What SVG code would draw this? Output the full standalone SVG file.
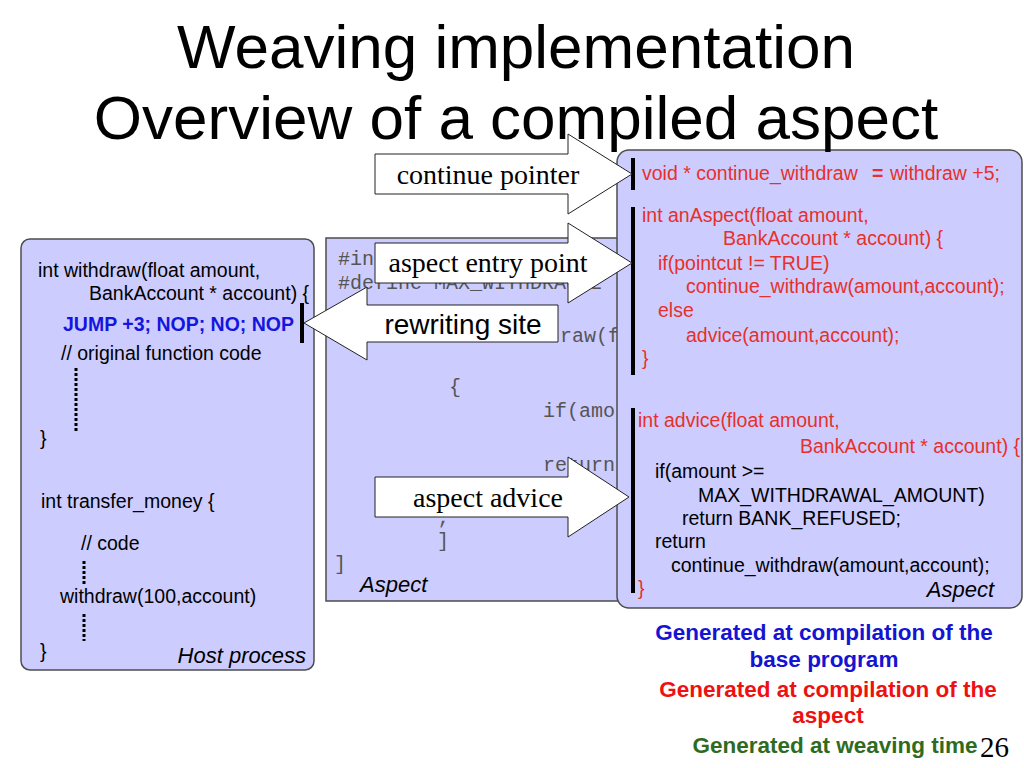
<svg xmlns="http://www.w3.org/2000/svg" width="1024" height="768" viewBox="0 0 1024 768">
<style>
.box{fill:#ccccff;stroke:#4d4d4d;stroke-width:1.5}
.code{font-family:"Liberation Sans",Arial,sans-serif;font-size:19.5px;fill:#000}
.red{fill:#e8302a}
.blue{fill:#1515e0;font-weight:bold}
.mono{font-family:"Liberation Mono","Courier New",monospace;font-size:20px;fill:#555}
.ital{font-family:"Liberation Sans",Arial,sans-serif;font-size:22px;font-style:italic;fill:#000}
.arrow{fill:#fff;stroke:#222;stroke-width:1}
.serif{font-family:"Liberation Serif","Times New Roman",serif;font-size:28px;fill:#000;text-anchor:middle}
.sans28{font-family:"Liberation Sans",Arial,sans-serif;font-size:28px;fill:#000;text-anchor:middle}
.bar{fill:#000}
.dots{stroke:#000;stroke-width:3;stroke-dasharray:3 2;fill:none}
.title{font-family:"Liberation Sans",Arial,sans-serif;font-size:62px;fill:#000;text-anchor:middle}
.legend{font-family:"Liberation Sans",Arial,sans-serif;font-size:22.5px;font-weight:bold;text-anchor:middle}
</style>
<rect width="1024" height="768" fill="#fff"/>

<g id="host-process">
  <rect class="box" x="21" y="239" width="293" height="431" rx="9"/>
  <text class="code" x="38" y="277">int withdraw(float amount,</text>
  <text class="code" x="89" y="300">BankAccount * account) {</text>
  <text class="code blue" x="63" y="331">JUMP +3; NOP; NO; NOP</text>
  <rect class="bar" x="300" y="303" width="4" height="40"/>
  <text class="code" x="61" y="360">// original function code</text>
  <line class="dots" x1="76" y1="368" x2="76" y2="433"/>
  <text class="code" x="40" y="445">}</text>
  <text class="code" x="41" y="508">int transfer_money {</text>
  <text class="code" x="81" y="550">// code</text>
  <line class="dots" x1="84" y1="561" x2="84" y2="586"/>
  <text class="code" x="60" y="603">withdraw(100,account)</text>
  <line class="dots" x1="84" y1="614" x2="84" y2="641"/>
  <text class="code" x="40" y="658">}</text>
  <text class="ital" x="306" y="663" text-anchor="end">Host process</text>
</g>

<g id="aspect-source">
  <rect class="box" x="326" y="238" width="300" height="363"/>
  <text class="mono" x="338" y="265">#in</text>
  <text class="mono" x="338" y="289">#define MAX_WITHDRAWAL</text>
  <text class="mono" x="560" y="342">raw(f</text>
  <text class="mono" x="449" y="393">{</text>
  <text class="mono" x="543" y="417">if(amo</text>
  <text class="mono" x="543" y="471">return</text>
  <text class="mono" x="437" y="524">;</text>
  <text class="mono" x="437" y="547">]</text>
  <text class="mono" x="334" y="570">]</text>
  <text class="ital" x="360" y="592">Aspect</text>
</g>

<g id="compiled-aspect">
  <rect class="box" x="617" y="150" width="405" height="458" rx="12"/>
  <rect class="bar" x="631" y="158" width="4" height="32"/>
  <text class="code red" x="642" y="180">void * continue_withdraw <tspan x="872" font-weight="bold">=</tspan><tspan x="890">withdraw +5;</tspan></text>
  <rect class="bar" x="631" y="207" width="4" height="168"/>
  <text class="code red" x="642" y="222">int anAspect(float amount,</text>
  <text class="code red" x="723" y="245">BankAccount * account) {</text>
  <text class="code red" x="658" y="270">if(pointcut != TRUE)</text>
  <text class="code red" x="686" y="293">continue_withdraw(amount,account);</text>
  <text class="code red" x="658" y="317">else</text>
  <text class="code red" x="686" y="342">advice(amount,account);</text>
  <text class="code red" x="642" y="365">}</text>
  <rect class="bar" x="631" y="408" width="4" height="185"/>
  <text class="code red" x="638" y="427">int advice(float amount,</text>
  <text class="code red" x="800" y="453">BankAccount * account) {</text>
  <text class="code" x="655" y="478">if(amount  &gt;=</text>
  <text class="code" x="698" y="502">MAX_WITHDRAWAL_AMOUNT)</text>
  <text class="code" x="682" y="525">return BANK_REFUSED;</text>
  <text class="code" x="655" y="548">return</text>
  <text class="code" x="671" y="572">continue_withdraw(amount,account);</text>
  <text class="code red" x="638" y="595">}</text>
  <text class="ital" x="994" y="597" text-anchor="end">Aspect</text>
</g>

<g id="connectors">
  <g id="continue-pointer">
    <path class="arrow" d="M375,154 L568,154 L568,134 L632,174 L568,214 L568,194 L375,194 Z"/>
    <text class="serif" x="488" y="184">continue pointer</text>
  </g>
  <g id="aspect-entry-point">
    <path class="arrow" d="M375,243 L568,243 L568,223 L632,263 L568,303 L568,283 L375,283 Z"/>
    <text class="serif" x="488" y="272">aspect entry point</text>
  </g>
  <g id="rewriting-site">
    <path class="arrow" d="M558,305 L367,305 L367,287 L304,323 L367,360 L367,342 L558,342 Z"/>
    <text class="sans28" x="463" y="334">rewriting site</text>
  </g>
  <g id="aspect-advice">
    <path class="arrow" d="M375,477 L568,477 L568,457 L629,497 L568,537 L568,517 L375,517 Z"/>
    <text class="serif" x="488" y="507">aspect advice</text>
  </g>
</g>

<g id="title">
  <text class="title" x="516" y="68">Weaving implementation</text>
  <text class="title" x="516" y="139">Overview of a compiled aspect</text>
</g>

<g id="legend">
  <text class="legend" x="824" y="640" fill="#1414d2">Generated at compilation of the</text>
  <text class="legend" x="824" y="667" fill="#1414d2">base program</text>
  <text class="legend" x="828" y="697" fill="#ee1111">Generated at compilation of the</text>
  <text class="legend" x="828" y="723" fill="#ee1111">aspect</text>
  <text class="legend" x="835" y="753" fill="#2f6b1f">Generated at weaving time</text>
  <text x="980" y="757" font-family="'Liberation Serif','Times New Roman',serif" font-size="29" fill="#000">26</text>
</g>
</svg>
